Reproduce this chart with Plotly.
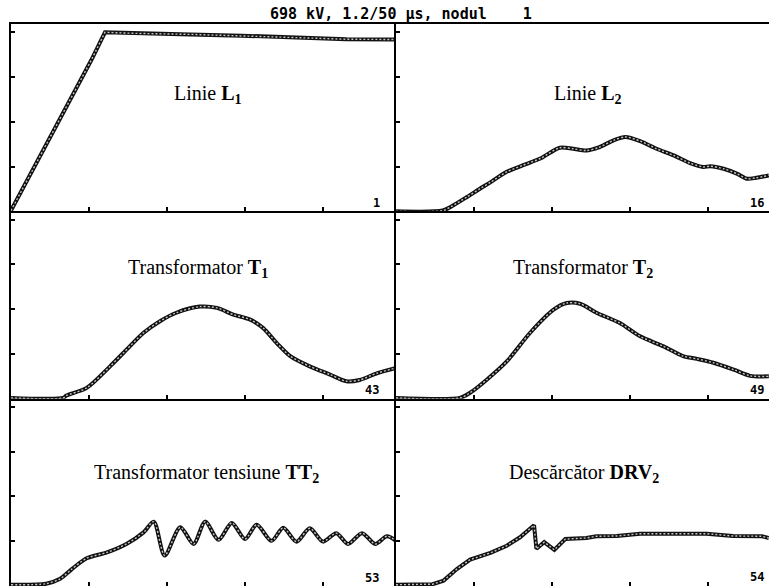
import plotly.graph_objects as go

# ---------------- data (time in µs, voltage in kV) ----------------
l1_t = [0, 1.03, 1.205, 1.6, 2.3, 2.95, 3.6, 4.3, 4.94]
l1_u = [3, 590, 698, 694, 690, 685, 678, 671, 670]

l2_t = [0, 0.6, 0.71, 0.91, 1.08, 1.21, 1.42, 1.63, 1.85, 2.10, 2.27, 2.44, 2.59,
        2.79, 2.94, 3.13, 3.34, 3.56, 3.77, 3.94, 4.03, 4.20, 4.37, 4.50, 4.62, 4.78]
l2_u = [0, 3, 19, 56, 89, 113, 154, 180, 206, 248, 244, 237, 248,
        277, 290, 274, 244, 218, 188, 173, 176, 166, 147, 127, 131, 140]

t1_t = [0, 0.67, 0.71, 0.97, 1.27, 1.44, 1.70, 1.91, 2.12, 2.42, 2.64, 2.85, 3.06,
        3.23, 3.41, 3.58, 3.83, 4.09, 4.30, 4.47, 4.69, 4.94]
t1_u = [3, 3, 12, 42, 126, 178, 257, 302, 335, 359, 354, 328, 309,
        276, 216, 166, 126, 94, 68, 73, 99, 120]

t2_t = [0, 0.82, 0.95, 1.16, 1.42, 1.72, 2.02, 2.19, 2.36, 2.57, 2.87, 3.13, 3.43,
        3.68, 3.86, 4.07, 4.33, 4.54, 4.78]
t2_u = [3, 3, 23, 73, 145, 257, 347, 373, 370, 335, 295, 243, 204,
        166, 155, 140, 113, 89, 87]

tt2_t = [0, 0.45, 0.63, 0.78, 0.97, 1.23, 1.48, 1.70, 1.83, 1.97, 2.17, 2.34, 2.49,
         2.66, 2.83, 3.00, 3.15, 3.34, 3.49, 3.66, 3.83, 4.00, 4.17, 4.32, 4.50,
         4.67, 4.82, 4.94]
tt2_u = [5, 9, 28, 66, 108, 131, 164, 209, 251, 119, 229, 164, 251,
         180, 246, 183, 239, 176, 227, 173, 225, 173, 206, 164, 206,
         164, 194, 175]

drv2_t = [0, 0.47, 0.61, 0.78, 0.95, 1.21, 1.42, 1.59, 1.77, 1.80, 1.90, 2.03, 2.17,
          2.44, 2.57, 2.83, 3.13, 3.98, 4.32, 4.69, 4.78]
drv2_u = [5, 7, 21, 66, 103, 129, 157, 190, 237, 145, 171, 141, 183,
          187, 194, 195, 204, 204, 195, 194, 187]

panel_titles = [
    "Linie <b>L</b><sub><b>1</b></sub>",
    "Linie <b>L</b><sub><b>2</b></sub>",
    "Transformator <b>T</b><sub><b>1</b></sub>",
    "Transformator <b>T</b><sub><b>2</b></sub>",
    "Transformator tensiune <b>TT</b><sub><b>2</b></sub>",
    "Descărcător <b>DRV</b><sub><b>2</b></sub>",
]
node_ids = ["1", "16", "43", "49", "53", "54"]
main_title = "698 kV, 1.2/50 µs, nodul    1"

series = [(l1_t, l1_u, "linear"), (l2_t, l2_u, "spline"),
          (t1_t, t1_u, "spline"), (t2_t, t2_u, "spline"),
          (tt2_t, tt2_u, "spline"), (drv2_t, drv2_u, "linear")]

# ---------------- layout geometry ----------------
W, H = 769, 586
ML, MT = 11, 24
PW, PH = W - ML, H - MT
XSPLIT = 396


def px(xp):
    return (xp - ML) / PW


def py(yp):
    return (H - yp) / PH


YTOP = 187.33 / 44.75 * 174.5
XMAX_L = (XSPLIT - ML) / 78.0
XMAX_R = (W - XSPLIT) / 78.0

fig = go.Figure()

for i, (t, u, shape) in enumerate(series):
    n = i + 1
    xa = "x" if n == 1 else f"x{n}"
    ya = "y" if n == 1 else f"y{n}"
    fig.add_trace(go.Scatter(x=t, y=u, mode="lines", xaxis=xa, yaxis=ya,
                             line=dict(color="#111111", width=4, shape=shape,
                                       smoothing=0.8),
                             hoverinfo="skip", showlegend=False))
    fig.add_trace(go.Scatter(x=t, y=u, mode="lines", xaxis=xa, yaxis=ya,
                             line=dict(color="#c4c4c4", width=1.4, shape=shape,
                                       smoothing=0.8, dash="2px,2px"),
                             hoverinfo="skip", showlegend=False))

row_domains = [[2 / 3, 1.0], [1 / 3, 2 / 3], [0.0, 1 / 3]]
col_domains = [[0.0, px(XSPLIT)], [px(XSPLIT), 1.0]]

axes = {}
for i in range(6):
    r, c = divmod(i, 2)
    n = i + 1
    xk = "xaxis" if n == 1 else f"xaxis{n}"
    yk = "yaxis" if n == 1 else f"yaxis{n}"
    axes[xk] = dict(domain=col_domains[c], anchor="y" if n == 1 else f"y{n}",
                    range=[0, XMAX_L if c == 0 else XMAX_R],
                    showgrid=False, zeroline=False, showticklabels=False,
                    ticks="inside", ticklen=4, tickwidth=1.5, tickcolor="black",
                    tick0=0, dtick=1,
                    showline=True, linecolor="black", linewidth=2,
                    mirror=(r == 0))
    axes[yk] = dict(domain=row_domains[r], anchor="x" if n == 1 else f"x{n}",
                    range=[0, YTOP],
                    showgrid=False, zeroline=False, showticklabels=False,
                    ticks="inside", ticklen=4, tickwidth=2, tickcolor="black",
                    tick0=0, dtick=174.5,
                    showline=True, linecolor="black", linewidth=2,
                    mirror=False)
fig.update_layout(**axes)

label_pos = [(207.5, 94), (587.5, 94), (197.5, 268), (582.5, 268),
             (206, 473), (584, 473)]
num_pos = [(382, 203), (766, 203), (381, 390), (766, 390), (381, 578), (766, 577)]

annotations = []
for i in range(6):
    lx, ly = label_pos[i]
    annotations.append(dict(text=panel_titles[i], xref="paper", yref="paper",
                            x=px(lx), y=py(ly), xanchor="center", yanchor="middle",
                            showarrow=False,
                            font=dict(family="Liberation Serif", size=20,
                                      color="black")))
    nx, ny = num_pos[i]
    annotations.append(dict(text="<b>" + node_ids[i] + "</b>", xref="paper",
                            yref="paper", x=px(nx), y=py(ny), xanchor="right",
                            yanchor="middle", showarrow=False,
                            font=dict(family="DejaVu Sans Mono", size=12,
                                      color="black")))

annotations.append(dict(text="<b>" + main_title.replace(" ", "\u00a0") + "</b>",
                        xref="paper", yref="paper", x=px(401), y=py(14),
                        xanchor="center", yanchor="middle", showarrow=False,
                        font=dict(family="DejaVu Sans Mono", size=15,
                                  color="black")))

fig.update_layout(width=W, height=H,
                  margin=dict(l=ML, r=0, t=MT, b=0, pad=0),
                  paper_bgcolor="white", plot_bgcolor="white",
                  showlegend=False, annotations=annotations)

fig.write_html("out.html",
               config={"displayModeBar": False},
               post_script="document.body.style.margin='0';"
                           "document.body.style.overflow='hidden';")
